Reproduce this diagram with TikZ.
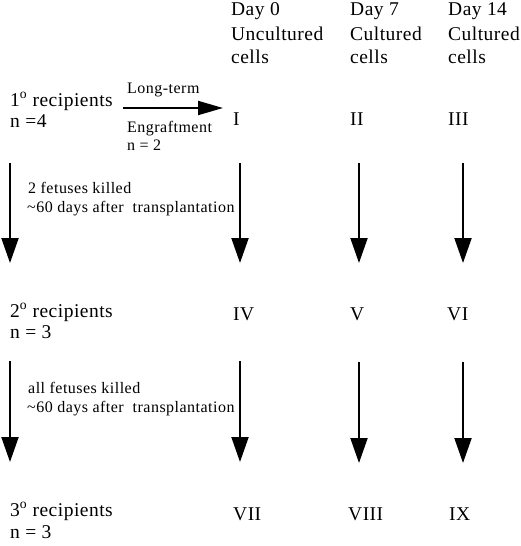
\documentclass[tikz,border=0pt]{standalone}
\usepackage{fontspec}
\setmainfont{Liberation Serif}
\newfontfamily\mainf[LetterSpace=2.5]{Liberation Serif}
\newfontfamily\smallf[LetterSpace=3]{Liberation Serif}
\usetikzlibrary{arrows.meta}
\begin{document}
\begin{tikzpicture}[x=1pt,y=-1pt,
  lbl/.style={anchor=base west, inner sep=0pt, font=\mainf\fontsize{19.5}{22}\selectfont},
  sml/.style={anchor=base west, inner sep=0pt, font=\smallf\fontsize{16}{18}\selectfont},
  flow/.style={line width=2pt, -{Triangle[length=25pt,width=17pt]}},
  hflow/.style={line width=2pt, -{Triangle[length=25pt,width=14pt]}}]
\useasboundingbox (0,0) rectangle (520,546);

% column headers
\node[lbl] (h0a) at (231,15) {Day 0};
\node[lbl] (h0b) at (231,40) {Uncultured};
\node[lbl] (h0c) at (231,63) {cells};
\node[lbl] (h7a) at (350,15) {Day 7};
\node[lbl] (h7b) at (350,40) {Cultured};
\node[lbl] (h7c) at (350,63) {cells};
\node[lbl] (h14a) at (448,15) {Day 14};
\node[lbl] (h14b) at (448,40) {Cultured};
\node[lbl] (h14c) at (448,63) {cells};

% row labels
\node[lbl] (r1a) at (10,106) {1\textsuperscript{o} recipients};
\node[lbl] (r1b) at (10,127) {n =4};
\node[lbl] (r2a) at (10,317) {2\textsuperscript{o} recipients};
\node[lbl] (r2b) at (10,338) {n = 3};
\node[lbl] (r3a) at (10,516) {3\textsuperscript{o} recipients};
\node[lbl] (r3b) at (10,538) {n = 3};

% roman numerals
\node[lbl] (n1) at (233,125) {I};
\node[lbl] (n2) at (350,125) {II};
\node[lbl] (n3) at (448,125) {III};
\node[lbl] (n4) at (233,320) {IV};
\node[lbl] (n5) at (350,320) {V};
\node[lbl] (n6) at (447,320) {VI};
\node[lbl] (n7) at (233,520) {VII};
\node[lbl] (n8) at (348,520) {VIII};
\node[lbl] (n9) at (449,520) {IX};

% horizontal arrow and labels
\coordinate (hs) at (123,108);
\coordinate (he) at (223,108);
\draw[hflow] (hs) -- (he);
\node[sml] (lt) at (127,93) {Long-term};
\node[sml] (eg) at (127,132) {Engraftment};
\node[sml] (n2lbl) at (127,150) {n = 2};

% first row of vertical arrows
\coordinate (a1s) at (10,163);  \coordinate (a1e) at (10,263);
\coordinate (b1s) at (240,163); \coordinate (b1e) at (240,263);
\coordinate (c1s) at (359,163); \coordinate (c1e) at (359,263);
\coordinate (d1s) at (463,163); \coordinate (d1e) at (463,263);
\draw[flow] (a1s) -- (a1e);
\draw[flow] (b1s) -- (b1e);
\draw[flow] (c1s) -- (c1e);
\draw[flow] (d1s) -- (d1e);
\node[sml] (k1a) at (28,193) {2 fetuses killed};
\node[sml] (k1b) at (27,212) {\textasciitilde60 days after\ \ transplantation};

% second row of vertical arrows
\coordinate (a2s) at (10,361);  \coordinate (a2e) at (10,462);
\coordinate (b2s) at (240,361); \coordinate (b2e) at (240,462);
\coordinate (c2s) at (359,362); \coordinate (c2e) at (359,463);
\coordinate (d2s) at (463,362); \coordinate (d2e) at (463,463);
\draw[flow] (a2s) -- (a2e);
\draw[flow] (b2s) -- (b2e);
\draw[flow] (c2s) -- (c2e);
\draw[flow] (d2s) -- (d2e);
\node[sml] (k2a) at (28,393) {all fetuses killed};
\node[sml] (k2b) at (27,412) {\textasciitilde60 days after\ \ transplantation};
\end{tikzpicture}
\end{document}
